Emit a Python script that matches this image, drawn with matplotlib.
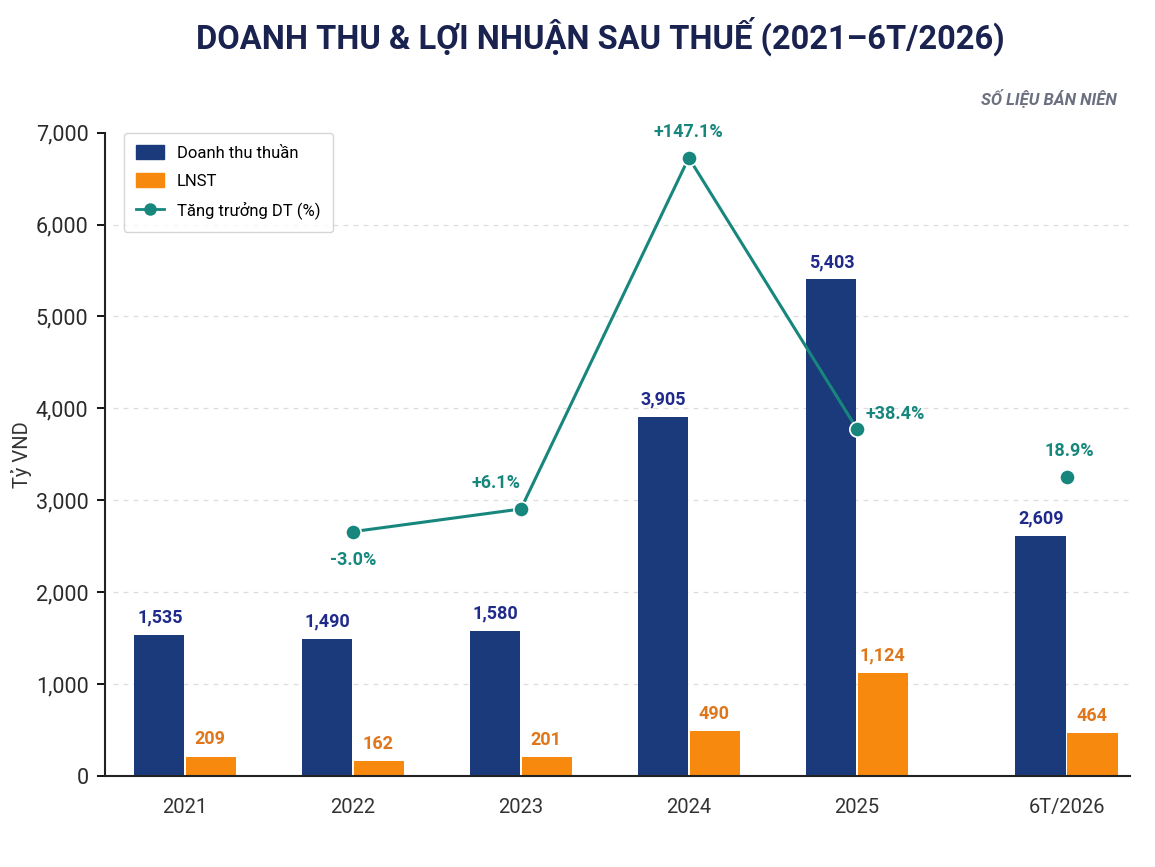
import numpy as np
import matplotlib.pyplot as plt
from matplotlib.lines import Line2D
from matplotlib.patches import Patch

plt.rcParams['font.family'] = ['Roboto', 'DejaVu Sans']

# Data
categories = ['2021', '2022', '2023', '2024', '2025', '6T/2026']
revenue = [1535, 1490, 1580, 3905, 5403, 2609]      # Doanh thu thuan
profit = [209, 162, 201, 490, 1124, 464]             # LNST
growth_years = ['2022', '2023', '2024', '2025']
growth = [-3.0, 6.1, 147.1, 38.4]                    # Tang truong DT (%)
growth_h1 = 18.9                                     # 6T/2026

# Colors
navy = '#1b3a7b'
orange = '#f7890f'
teal = '#17877d'
navy_txt = '#1f2a8a'
orange_txt = '#e0761a'

xpos = np.array([0, 1, 2, 3, 4, 5.25])
w = 0.30

fig = plt.figure(figsize=(11.55, 8.67), dpi=100)
ax = fig.add_axes([0.091, 0.105, 0.887, 0.742])

ax.bar(xpos - w/2 - 0.005, revenue, w, color=navy, zorder=2)
ax.bar(xpos + w/2 + 0.005, profit, w, color=orange, zorder=2)

for x, v in zip(xpos, revenue):
    ax.text(x - w/2, v + 90, f'{v:,}', ha='center', va='bottom', color=navy_txt,
            fontsize=13, fontweight='bold')
for x, v in zip(xpos, profit):
    ax.text(x + w/2, v + 90, f'{v:,}', ha='center', va='bottom', color=orange_txt,
            fontsize=13, fontweight='bold')

ax.set_ylim(0, 7000)
ax.set_xlim(-0.476, 5.625)
yt = np.arange(0, 7001, 1000)
ax.set_yticks(yt)
ax.set_yticklabels([f'{int(t):,}' for t in yt])
ax.set_xticks(xpos)
ax.set_xticklabels(categories)
ax.tick_params(axis='x', length=0, pad=16, labelsize=14.5, labelcolor='#333333')
ax.tick_params(axis='y', length=6, width=1.3, pad=6, labelsize=15.5, labelcolor='#2a2a2a')
for t in yt[1:-1]:
    ax.axhline(t, xmin=0.008, color='#dddddd', linestyle=(0, (4, 4)), linewidth=0.9, zorder=0)
for s in ['top', 'right']:
    ax.spines[s].set_visible(False)
ax.spines['left'].set_linewidth(1.5)
ax.spines['bottom'].set_linewidth(1.5)
ax.spines['left'].set_color('#222222')
ax.spines['bottom'].set_color('#222222')
ax.set_ylabel('Tỷ VND', fontsize=14.5, color='#333333', labelpad=3)

# growth on hidden secondary axis
ax2 = ax.twinx()
ax2.set_ylim(-101.1, 157.2)
ax2.axis('off')
gx = [xpos[categories.index(c)] for c in growth_years]
ax2.plot(gx, growth, color=teal, linewidth=2.2, marker='o', markersize=11,
         markeredgecolor='white', markeredgewidth=1.2, zorder=5)
ax2.plot([xpos[-1]], [growth_h1], color=teal, marker='o', markersize=11,
         markeredgecolor='white', markeredgewidth=1.2, linestyle='none', zorder=5)

lab_kw = dict(color=teal, fontsize=13, fontweight='bold')
ax2.annotate(f'{growth[0]:.1f}%', (gx[0], growth[0]), xytext=(0, -14),
             textcoords='offset points', ha='center', va='top', **lab_kw)
ax2.annotate(f'+{growth[1]:.1f}%', (gx[1], growth[1]), xytext=(-18, 12),
             textcoords='offset points', ha='center', va='bottom', **lab_kw)
ax2.annotate(f'+{growth[2]:.1f}%', (gx[2], growth[2]), xytext=(0, 12),
             textcoords='offset points', ha='center', va='bottom', **lab_kw)
ax2.annotate(f'+{growth[3]:.1f}%', (gx[3], growth[3]), xytext=(6, 4),
             textcoords='offset points', ha='left', va='bottom', **lab_kw)
ax2.annotate(f'{growth_h1:.1f}%', (xpos[-1], growth_h1), xytext=(2, 12),
             textcoords='offset points', ha='center', va='bottom', **lab_kw)

handles = [Patch(color=navy, label='Doanh thu thuần'),
           Patch(color=orange, label='LNST'),
           Line2D([0], [0], color=teal, marker='o', markersize=8, linewidth=2,
                  label='Tăng trưởng DT (%)')]
leg = ax.legend(handles=handles, loc='upper left', bbox_to_anchor=(0.018, 1.0),
                borderaxespad=0, fontsize=12, frameon=True, fancybox=True,
                borderpad=0.75, labelspacing=0.75, handlelength=1.7,
                handleheight=0.9, handletextpad=0.75, edgecolor='#cccccc')
leg.get_frame().set_linewidth(1.0)
leg.set_zorder(10)

fig.text(0.52, 0.958, 'DOANH THU & LỢI NHUẬN SAU THUẾ (2021–6T/2026)',
         ha='center', va='center', fontsize=23.5, fontweight='bold', color='#1a2250')
fig.text(0.967, 0.887, 'SỐ LIỆU BÁN NIÊN', ha='right', va='center', fontsize=12,
         fontweight='bold', fontstyle='italic', color='#6b6f80')

fig.savefig('out.png', dpi=100, facecolor='white')
